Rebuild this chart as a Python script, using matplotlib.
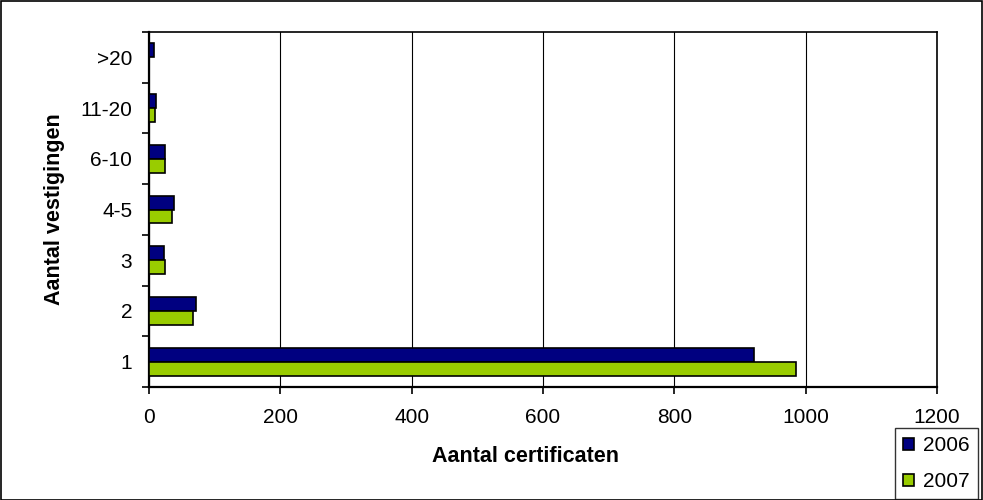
import numpy as np
import matplotlib.pyplot as plt
from matplotlib.patches import Rectangle

plt.rcParams['font.family'] = ['Liberation Sans', 'DejaVu Sans']

categories = ['1', '2', '3', '4-5', '6-10', '11-20', '>20']
jaar_2006 = [922, 72, 23, 38, 25, 10, 7]
jaar_2007 = [986, 67, 25, 35, 24, 9, 0]

fs = 15

fig = plt.figure(figsize=(9.83, 5.0), dpi=100)
# plot area: x 149..937 px, y 32..387 px
ax = fig.add_axes([149 / 983, 1 - 387 / 500, 788 / 983, 355 / 500])

y = np.arange(len(categories))
h = 0.276
ax.barh(y + h / 2, jaar_2006, height=h, color='#000080', edgecolor='black',
        linewidth=1.2, label='2006', zorder=3)
ax.barh(y - h / 2, jaar_2007, height=h, color='#99CC00', edgecolor='black',
        linewidth=1.2, label='2007', zorder=3)

ax.set_xlim(0, 1200)
ax.set_ylim(-0.5, len(categories) - 0.5)
ax.set_xticks(np.arange(0, 1201, 200))
ax.set_yticks(y)
ax.set_yticklabels(categories)
# ticks op de grenzen van de categorieen
ax.set_yticks(np.arange(-0.5, len(categories), 1), minor=True)
ax.tick_params(axis='y', which='major', length=0, pad=12, labelsize=fs)
ax.tick_params(axis='y', which='minor', length=5, direction='out', width=1.2)
ax.tick_params(axis='x', length=5, direction='out', width=1.2, labelsize=fs, pad=10)
ax.xaxis.grid(True, color='black', linewidth=0.8, zorder=0)

for s in ax.spines.values():
    s.set_linewidth(1.2)
ax.spines['left'].set_linewidth(1.6)
ax.spines['bottom'].set_linewidth(1.6)

ax.set_xlabel('Aantal certificaten', fontsize=15.5, fontweight='bold')
ax.xaxis.set_label_coords(0.478, -0.166)
ax.set_ylabel('Aantal vestigingen', fontsize=15.5, fontweight='bold')
ax.yaxis.set_label_coords(-0.107, 0.5)

leg = fig.legend(loc='upper left', bbox_to_anchor=(895 / 983, 1 - 428 / 500),
                 fontsize=fs, frameon=True, fancybox=False, edgecolor='black',
                 handlelength=0.5, handleheight=0.5, handletextpad=0.45,
                 labelspacing=0.8, borderpad=0.4, borderaxespad=0.0)
leg.get_frame().set_linewidth(1.0)

fig.patches.append(Rectangle((0.001, 0.001), 0.998, 0.998, transform=fig.transFigure,
                             fill=False, edgecolor='black', linewidth=1.2))

fig.savefig('out.png', dpi=100)
